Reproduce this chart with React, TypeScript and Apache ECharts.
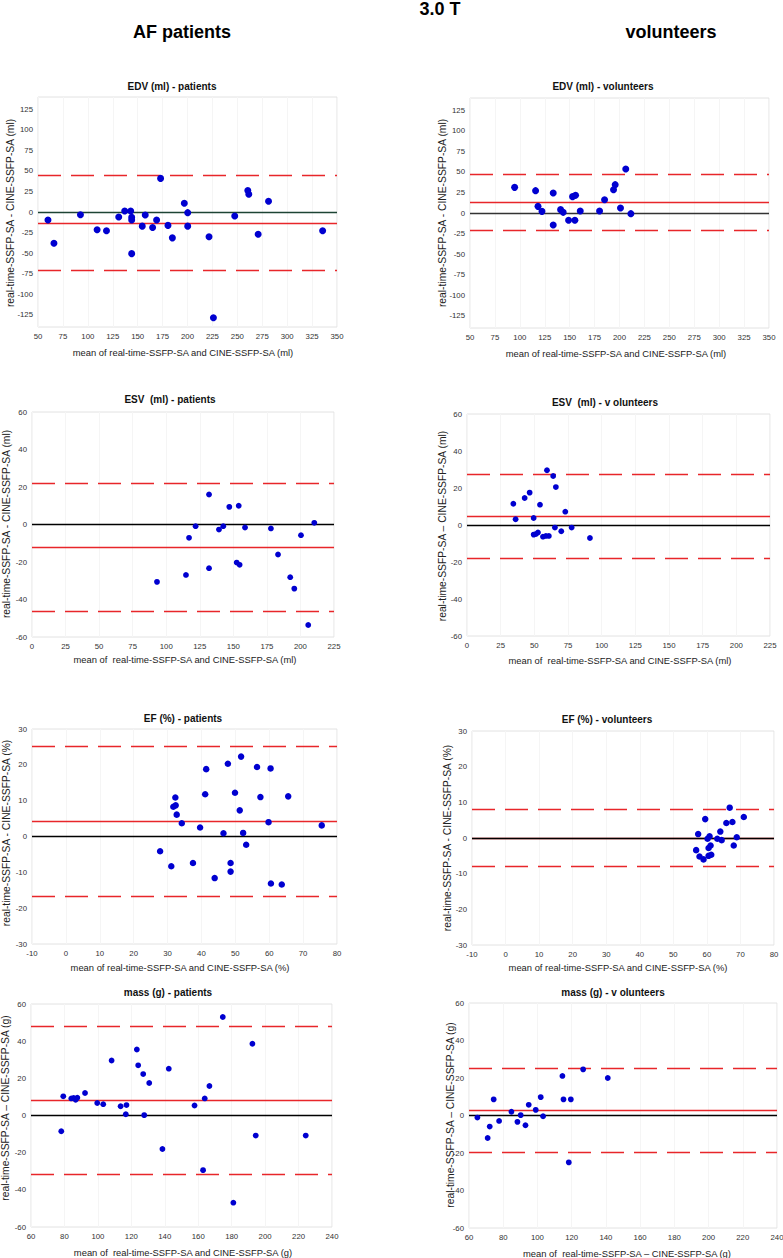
import React, { useEffect, useRef } from "react";
import * as echarts from "echarts";

const FONT = '"Liberation Sans", Arial, Helvetica, sans-serif';

// ---------- tick labels ----------
const edvXTicks = [50, 75, 100, 125, 150, 175, 200, 225, 250, 275, 300, 325, 350];
const edvYTicks = [-125, -100, -75, -50, -25, 0, 25, 50, 75, 100, 125];
const esvXTicks = [0, 25, 50, 75, 100, 125, 150, 175, 200, 225];
const esvYTicks = [-60, -40, -20, 0, 20, 40, 60];
const efXTicks = [-10, 0, 10, 20, 30, 40, 50, 60, 70, 80];
const efYTicks = [-30, -20, -10, 0, 10, 20, 30];
const massXTicks = [60, 80, 100, 120, 140, 160, 180, 200, 220, 240];
const massYTicks = [-60, -40, -20, 0, 20, 40, 60];

// ---------- data: mean (x) and difference (y); lines = [bias, upper LoA, lower LoA] ----------
const edvPatMean = [60, 66, 92.6, 109.3, 118.7, 131, 137, 143, 144, 144, 144, 154.6, 157.6, 165, 169, 173, 180.4, 184.8, 196.8, 200.2, 200.2, 221.6, 226, 247.4, 260.5, 261.5, 270.9, 281.3, 335.6];
const edvPatDiff = [-9.8, -38, -3.3, -21.7, -22.9, -6.1, 1.2, 1.2, -6.5, -9.8, -50.7, -17.2, -3.7, -18.8, -9.8, 40.9, -16.3, -31.5, 10.6, -0.8, -17.2, -30.2, -128.7, -4.9, 26.1, 21.7, -27, 13.1, -22.9];
const edvPatLines = [-13.1, 45.3, -71];

const edvVolMean = [94.8, 115.8, 118.2, 122.2, 133.5, 133.5, 140.9, 143.5, 148.9, 152.9, 155.9, 155.2, 160.6, 180, 185, 194, 195.7, 201, 206.3, 211.4];
const edvVolDiff = [31.2, 27.2, 8.1, 2.0, 24.3, -14.6, 4.1, 0.8, -8.9, 19.9, 21.5, -8.9, 2.4, 2.4, 16.2, 28.4, 34.5, 6.1, 53.6, -0.8];
const edvVolLines = [12.6, 46.7, -21.5];

const esvPatMean = [93.1, 114.7, 117, 121.9, 131.9, 131.9, 139.3, 142.5, 147, 152.5, 154, 154.7, 158.7, 178, 183.3, 192.4, 195.4, 200.4, 205.8, 210.3];
const esvPatDiff = [-30.6, -26.9, -7.1, -0.9, 16, -23.3, -2.7, -0.9, 9.4, -20.3, 10, -21.5, -1.6, -2.1, -16, -28.1, -34.2, -5.7, -53.6, 0.9];
const esvPatLines = [-12.3, 21.9, -46.3];

const esvVolMean = [34.4, 36.1, 42.8, 46.5, 49.5, 49.5, 51.2, 52.7, 54.2, 56.4, 58.6, 59.4, 60.8, 64, 65.3, 66, 70, 73, 77.7, 91.3];
const esvVolDiff = [11.5, 3.1, 14.6, 17.5, 3.8, -5.2, -4.9, -4.0, 11, -6.3, -5.9, 29.6, -5.9, 26.5, -1.4, 20.5, -3.4, 7.2, -1.4, -7.0];
const esvVolLines = [4.9, 27.7, -18.2];

const efPatMean = [27.8, 31.1, 31.7, 32.3, 32.4, 32.7, 34.2, 37.5, 39.6, 41.1, 41.4, 43.9, 46.5, 47.8, 48.6, 48.6, 49.9, 51.3, 51.7, 52.3, 53.2, 56.4, 57.4, 59.8, 60.4, 60.5, 63.7, 65.6, 75.5];
const efPatDiff = [-4.1, -8.3, 8.3, 10.9, 8.7, 6.1, 3.7, -7.4, 2.5, 11.8, 18.8, -11.6, 0.9, 20.3, -7.4, -9.8, 12.2, 7.3, 22.3, 1.0, -2.3, 19.4, 11, 4.0, 19, -13.1, -13.4, 11.2, 3.1];
const efPatLines = [4.3, 25.3, -16.6];

const efVolMean = [56.8, 57.4, 57.8, 59, 59.5, 60.2, 60.5, 60.5, 60.8, 61.1, 61.3, 63.1, 64, 64.4, 65.8, 66.8, 67.6, 68, 68.9, 71];
const efVolDiff = [-3.4, 1.1, -5.2, -6.0, 5.3, -0.2, -2.8, -5.0, 0.5, -2.1, -4.7, -0.2, 1.8, -0.6, 4.2, 8.5, 4.5, -2.1, 0.2, 5.9];
const efVolLines = [0, 8.0, -8.0];

const massPatMean = [78.1, 79.3, 84.1, 85.5, 86.7, 87.7, 92.3, 99.6, 103.2, 108.2, 113.6, 116.7, 117.1, 123.3, 124.1, 127.1, 127.7, 130.7, 138.6, 142.4, 157.8, 162.9, 163.9, 166.7, 174.7, 181, 192.4, 194.4, 224.3];
const massPatDiff = [-8.5, 10.3, 9.2, 9.4, 8.5, 9.6, 12.1, 6.7, 6.1, 29.6, 5.0, 0.7, 5.6, 35.5, 27.0, 22.3, 0.2, 17.5, -18, 25.2, 5.4, -29.4, 9.2, 15.9, 53, -46.9, 38.6, -10.8, -10.8];
const massPatLines = [8.1, 47.8, -31.5];

const massVolMean = [64.9, 70.9, 72.1, 74.4, 77.6, 84.8, 88.3, 90.2, 93, 94.9, 99, 101.9, 103.3, 114.6, 115.2, 118.3, 119.5, 126.7, 141.1];
const massVolDiff = [-1.1, -12, -5.9, 8.6, -2.9, 2.0, -3.4, 0.2, -5.2, 5.7, 3.0, 9.8, -0.4, 21.1, 8.6, -25, 8.6, 24.6, 20];
const massVolLines = [2.9, 25.4, -19.6];

// ---------- texts ----------
const headerTexts = ["3.0 T", "AF patients", "volunteers"];
const panelTitles = [
  "EDV (ml) - patients",
  "EDV (ml) - volunteers",
  "ESV  (ml) - patients",
  "ESV  (ml) - v olunteers",
  "EF (%) - patients",
  "EF (%) - volunteers",
  "mass (g) - patients",
  "mass (g) - v olunteers",
];
const xTitles = [
  "mean of real-time-SSFP-SA and CINE-SSFP-SA (ml)",
  "mean of real-time-SSFP-SA and CINE-SSFP-SA (ml)",
  "mean of  real-time-SSFP-SA and CINE-SSFP-SA (ml)",
  "mean of  real-time-SSFP-SA and CINE-SSFP-SA (ml)",
  "mean of real-time-SSFP-SA and CINE-SSFP-SA (%)",
  "mean of real-time-SSFP-SA and CINE-SSFP-SA (%)",
  "mean of  real-time-SSFP-SA and CINE-SSFP-SA (g)",
  "mean of  real-time-SSFP-SA \u2013 CINE-SSFP-SA (g)",
];
const yTitles = [
  "real-time-SSFP-SA - CINE-SSFP-SA (ml)",
  "real-time-SSFP-SA - CINE-SSFP-SA (ml)",
  "real-time-SSFP-SA - CINE-SSFP-SA (ml)",
  "real-time-SSFP-SA \u2013 CINE-SSFP-SA (ml)",
  "real-time-SSFP-SA - CINE-SSFP-SA (%)",
  "real-time-SSFP-SA - CINE-SSFP-SA (%)",
  "real-time-SSFP-SA \u2013 CINE-SSFP-SA (g)",
  "real-time-SSFP-SA \u2013 CINE-SSFP-SA (g)",
];

// ---------- layout (pixels) ----------
const panels = [
  { grid: [38, 97, 299, 230], xt: edvXTicks, yt: edvYTicks, yr: [-140, 140], mx: edvPatMean, dy: edvPatDiff, ln: edvPatLines, zero: "#1d4434", size: 7, title: [172, 86], xTitle: [183, 352], yTitle: [10, 213] },
  { grid: [470, 98, 299, 230], xt: edvXTicks, yt: edvYTicks, yr: [-140, 140], mx: edvVolMean, dy: edvVolDiff, ln: edvVolLines, zero: "#333333", size: 7, title: [603, 86], xTitle: [616, 353], yTitle: [442, 213] },
  { grid: [32, 412, 302, 225], xt: esvXTicks, yt: esvYTicks, yr: [-60, 60], mx: esvPatMean, dy: esvPatDiff, ln: esvPatLines, zero: "#000000", size: 5.8, title: [170, 399], xTitle: [185, 659], yTitle: [6, 524] },
  { grid: [467, 414, 303, 222], xt: esvXTicks, yt: esvYTicks, yr: [-60, 60], mx: esvVolMean, dy: esvVolDiff, ln: esvVolLines, zero: "#000000", size: 5.8, title: [605, 402], xTitle: [620, 660], yTitle: [442, 526] },
  { grid: [32, 729, 305, 215], xt: efXTicks, yt: efYTicks, yr: [-30, 30], mx: efPatMean, dy: efPatDiff, ln: efPatLines, zero: "#000000", size: 6.5, title: [183, 718], xTitle: [180, 967], yTitle: [6, 833] },
  { grid: [472, 731, 302, 214], xt: efXTicks, yt: efYTicks, yr: [-30, 30], mx: efVolMean, dy: efVolDiff, ln: efVolLines, zero: "#000000", size: 6.5, title: [607, 719], xTitle: [618, 967], yTitle: [447, 838] },
  { grid: [31, 1004, 301, 223], xt: massXTicks, yt: massYTicks, yr: [-60, 60], mx: massPatMean, dy: massPatDiff, ln: massPatLines, zero: "#000000", size: 5.8, title: [168, 992], xTitle: [183, 1252], yTitle: [5, 1108] },
  { grid: [469, 1003, 308, 225], xt: massXTicks, yt: massYTicks, yr: [-60, 60], mx: massVolMean, dy: massVolDiff, ln: massVolLines, zero: "#000000", size: 5.8, title: [613, 992], xTitle: [627, 1253], yTitle: [450, 1115] },
];

const RED = "#e8262a";
const BLUE = "#0000d0";

function buildOption() {
  const grid: any[] = [];
  const xAxis: any[] = [];
  const yAxis: any[] = [];
  const series: any[] = [];
  const graphic: any[] = [];

  panels.forEach((p, i) => {
    grid.push({
      left: p.grid[0],
      top: p.grid[1],
      width: p.grid[2],
      height: p.grid[3],
      show: true,
      borderColor: "#e2e2e2",
      borderWidth: 1,
      backgroundColor: "#ffffff",
      containLabel: false,
      outerBoundsMode: "none",
    });
    const xt = p.xt;
    xAxis.push({
      type: "value",
      gridIndex: i,
      min: xt[0],
      max: xt[xt.length - 1],
      interval: xt[1] - xt[0],
      axisLine: { show: false },
      axisTick: { show: false },
      splitLine: { show: true, lineStyle: { color: "#f5f5f5", width: 1 } },
      axisLabel: { color: "#333", fontSize: 7.8, fontFamily: FONT, margin: 5 },
    });
    yAxis.push({
      type: "value",
      gridIndex: i,
      min: p.yr[0],
      max: p.yr[1],
      axisLine: { show: false },
      axisTick: { show: false, customValues: p.yt },
      splitLine: { show: false },
      axisLabel: { color: "#333", fontSize: 7.8, fontFamily: FONT, margin: 5, customValues: p.yt },
    });
    const pts = p.mx.map((m, k) => [m, p.dy[k]]);
    series.push({
      type: "scatter",
      xAxisIndex: i,
      yAxisIndex: i,
      data: pts,
      symbol: "circle",
      symbolSize: p.size,
      z: 10,
      itemStyle: { color: BLUE, opacity: 1 },
      markLine: {
        silent: true,
        symbol: ["none", "none"],
        label: { show: false },
        z: 3,
        data: [
          { yAxis: p.ln[0], lineStyle: { color: RED, width: 1.3, type: "solid" } },
          { yAxis: p.ln[1], lineStyle: { color: RED, width: 1.3, type: [23, 10] } },
          { yAxis: p.ln[2], lineStyle: { color: RED, width: 1.3, type: [23, 10] } },
          { yAxis: 0, lineStyle: { color: p.zero, width: 1.3, type: "solid" } },
        ],
      },
    });

    graphic.push({
      type: "text",
      x: p.title[0],
      y: p.title[1],
      style: { text: panelTitles[i], fill: "#111", font: `bold 10px ${FONT}`, align: "center", verticalAlign: "middle" },
    });
    graphic.push({
      type: "text",
      x: p.xTitle[0],
      y: p.xTitle[1],
      style: { text: xTitles[i], fill: "#222", font: `9.4px ${FONT}`, align: "center", verticalAlign: "middle" },
    });
    graphic.push({
      type: "text",
      x: p.yTitle[0],
      y: p.yTitle[1],
      rotation: Math.PI / 2,
      style: { text: yTitles[i], fill: "#222", font: `10.3px ${FONT}`, align: "center", verticalAlign: "middle" },
    });
  });

  graphic.push(
    { type: "text", x: 440, y: 9, style: { text: headerTexts[0], fill: "#000", font: `bold 18px ${FONT}`, align: "center", verticalAlign: "middle" } },
    { type: "text", x: 182, y: 32, style: { text: headerTexts[1], fill: "#000", font: `bold 18px ${FONT}`, align: "center", verticalAlign: "middle" } },
    { type: "text", x: 671, y: 32, style: { text: headerTexts[2], fill: "#000", font: `bold 18px ${FONT}`, align: "center", verticalAlign: "middle" } }
  );

  return {
    animation: false,
    backgroundColor: "#ffffff",
    grid,
    xAxis,
    yAxis,
    series,
    graphic,
  };
}

export default function App() {
  const ref = useRef<HTMLDivElement>(null);
  useEffect(() => {
    if (!ref.current) return;
    const chart = echarts.init(ref.current, undefined, { renderer: "svg" });
    chart.setOption(buildOption() as any);
    return () => {
      chart.dispose();
    };
  }, []);
  return (
    <div
      ref={ref}
      style={{ position: "absolute", left: 0, top: 0, width: 783, height: 1258, background: "#fff" }}
    />
  );
}
